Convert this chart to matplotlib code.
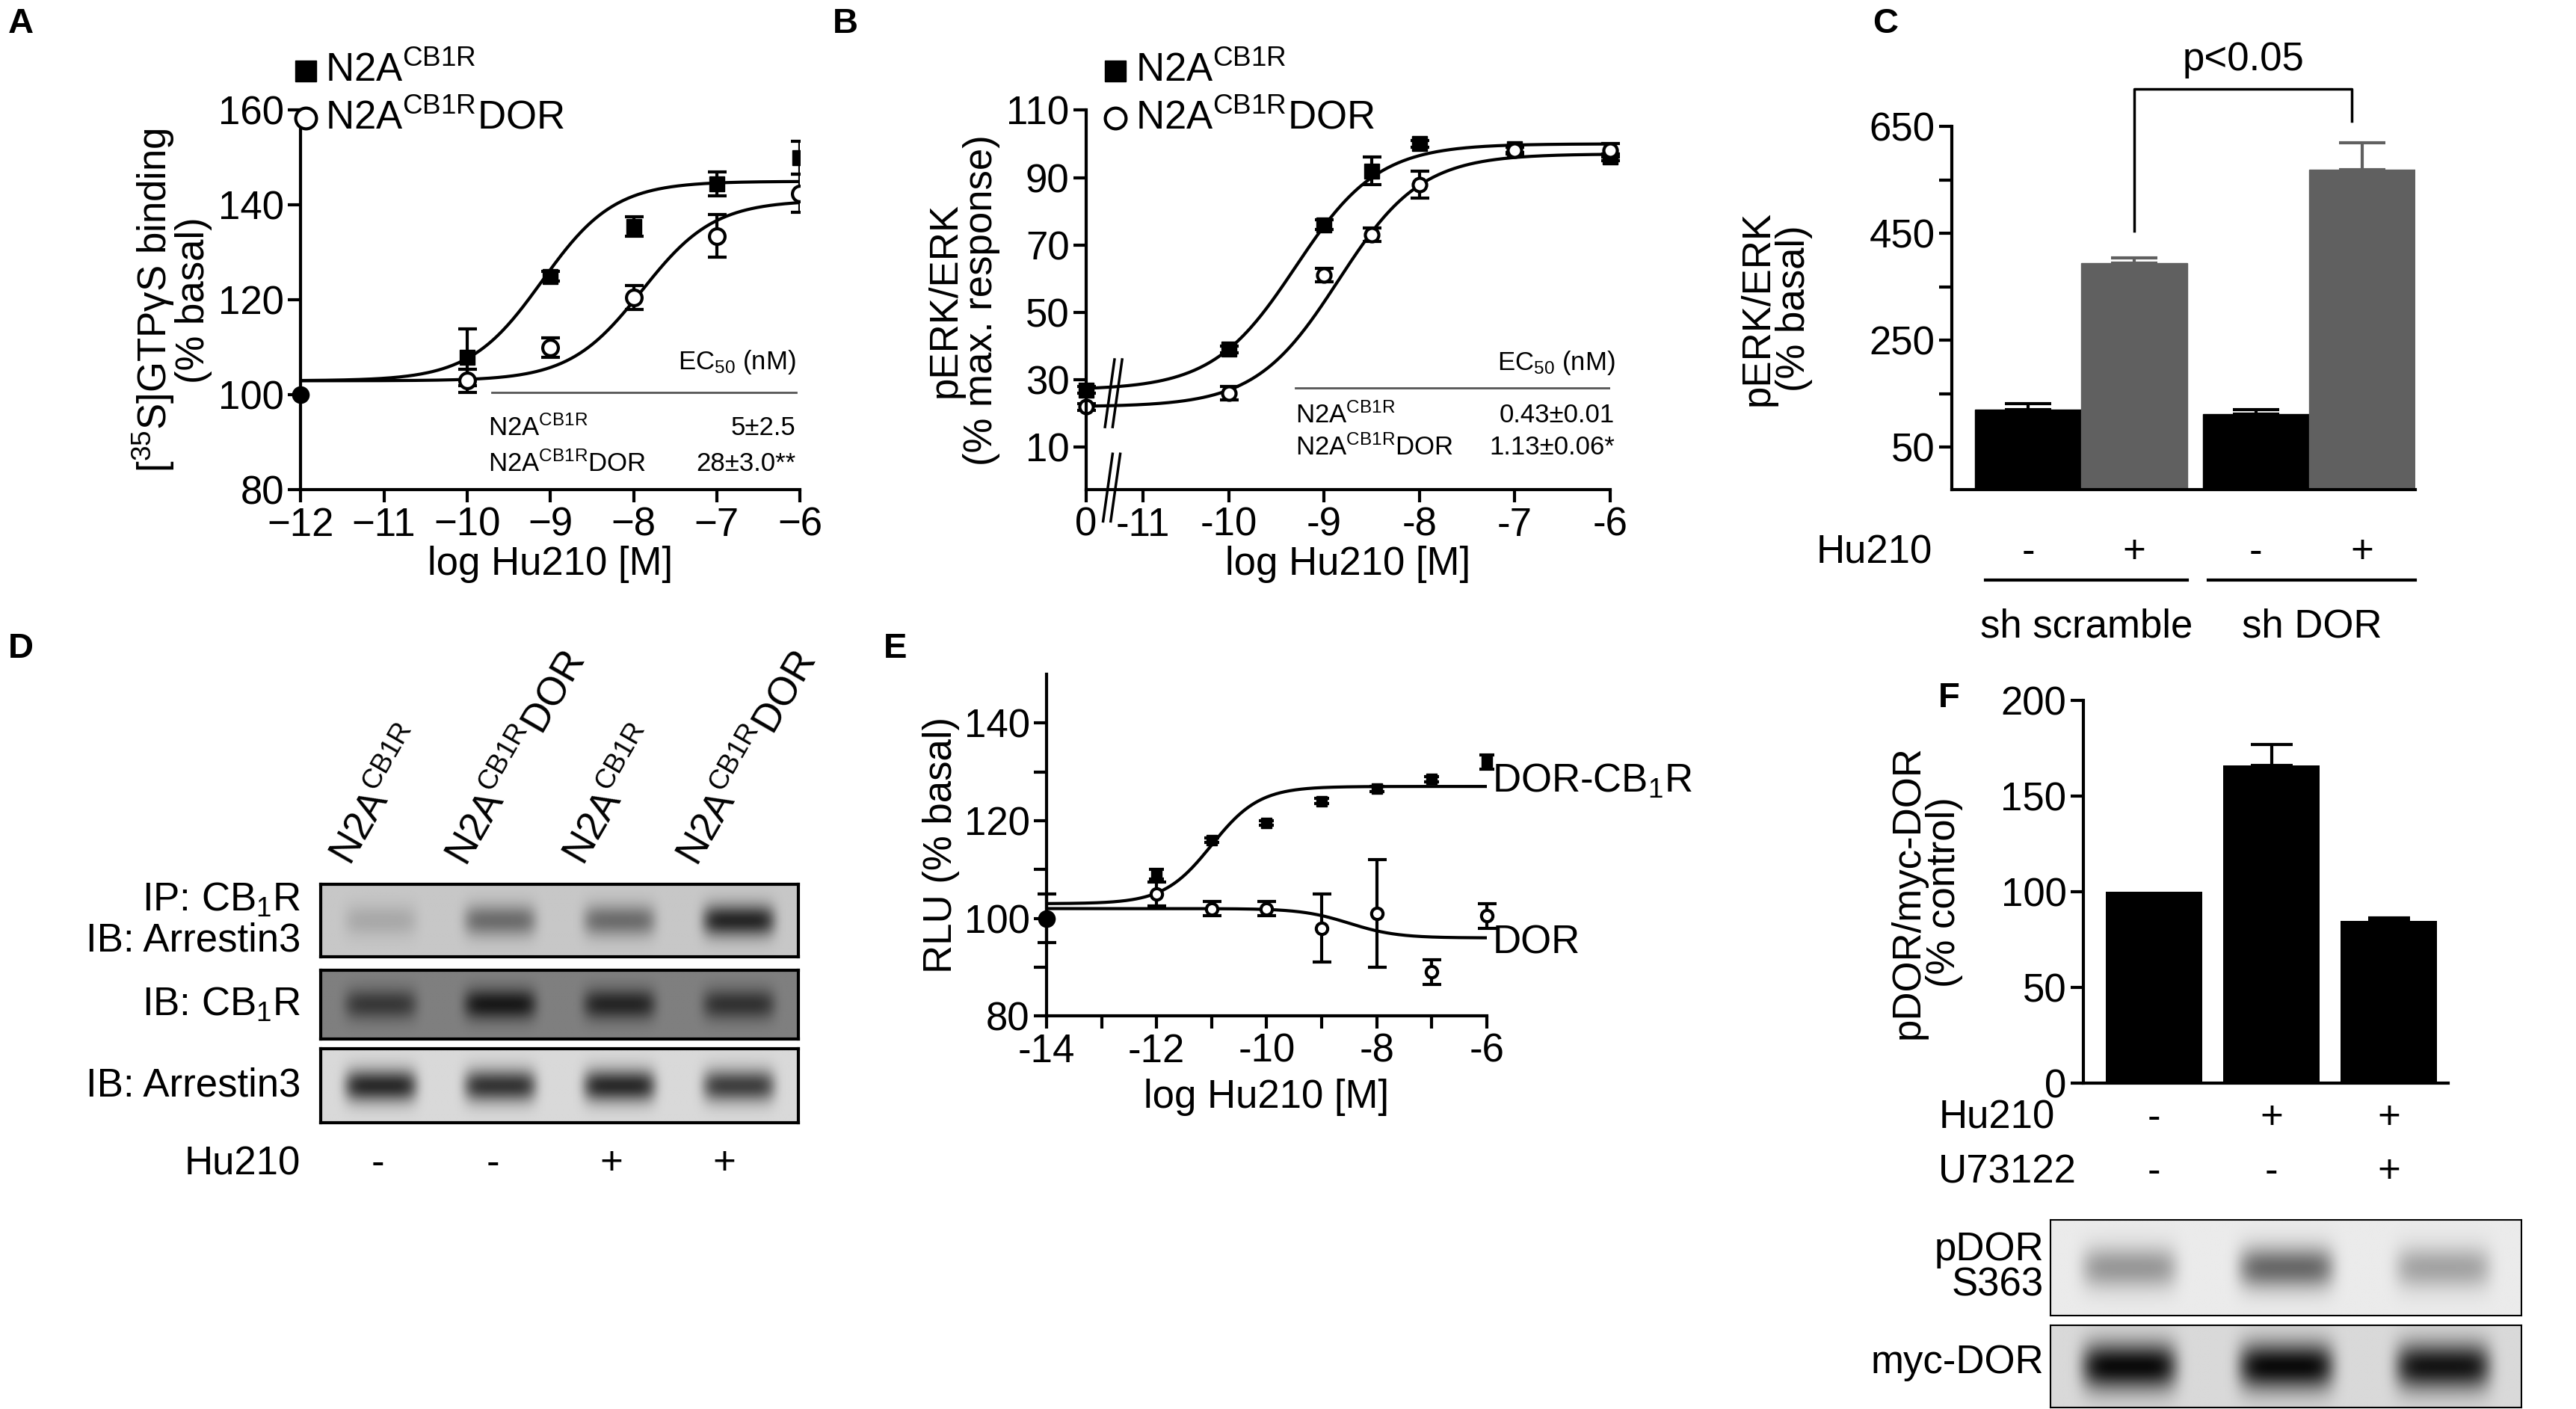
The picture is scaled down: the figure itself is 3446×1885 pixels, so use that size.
import numpy as np
import matplotlib
matplotlib.use("Agg")
import matplotlib.pyplot as plt
import matplotlib.transforms as mtransforms

plt.rcParams["font.family"] = ["Liberation Sans", "DejaVu Sans"]
plt.rcParams["mathtext.fontset"] = "custom"
plt.rcParams["mathtext.rm"] = "Liberation Sans"
plt.rcParams["mathtext.it"] = "Liberation Sans"
plt.rcParams["mathtext.sf"] = "Liberation Sans"

# ---------- data ----------
# A: [35S]GTPgS binding
a_x = [-12, -10, -9, -8, -7, -6]
a_cb1 = [100, 108, 125, 135.5, 144.5, 150]
a_cb1_err = [0, 6, 1, 2, 2.5, 3.5]
a_dor = [100, 103, 110, 120.5, 133.5, 142.5]
a_dor_err = [0, 2.5, 2, 2.5, 4.5, 4]
a_fit_cb1 = (103, 145, -9.1)   # bottom, top, logEC50
a_fit_dor = (103, 141, -7.9)

# B: pERK/ERK (0 dose drawn at -11.5 on the broken axis)
b_x = [-11.5, -10, -9, -8.5, -8, -7, -6]
b_cb1 = [27, 39, 76, 92, 100, 98.5, 96]
b_cb1_err = [1, 1, 1.5, 4, 1, 1, 1]
b_dor = [22, 26, 61, 73, 88, 98, 98]
b_dor_err = [1, 2, 2, 2, 4, 1, 2]
b_fit_cb1 = (27, 100, -9.3)
b_fit_dor = (22, 97, -8.85)

# C: pERK/ERK bars
c_vals = [120, 395, 112, 570]
c_err = [12, 10, 8, 50]
c_signs = ["-", "+", "-", "+"]
c_groups = ["sh scramble", "sh DOR"]

# D: blot lanes
d_lanes = ["N2A$^{\\mathrm{CB1R}}$", "N2A$^{\\mathrm{CB1R}}$DOR",
           "N2A$^{\\mathrm{CB1R}}$", "N2A$^{\\mathrm{CB1R}}$DOR"]
d_rows = ["IP: CB$_1$R\nIB: Arrestin3", "IB: CB$_1$R", "IB: Arrestin3"]
d_band = [[0.15, 0.45, 0.45, 0.8], [0.55, 0.8, 0.7, 0.6], [0.8, 0.75, 0.8, 0.7]]
d_bg = [0.78, 0.5, 0.85]
d_hu = ["-", "-", "+", "+"]

# E: RLU
e_x = [-14, -12, -11, -10, -9, -8, -7, -6]
e_cb1 = [100, 109, 116, 119.5, 124, 126.5, 128.5, 132]
e_cb1_err = [5, 1, 0.5, 0.5, 0.5, 0.5, 0.5, 1.5]
e_dor = [100, 105, 102, 102, 98, 101, 89, 100.5]
e_dor_err = [5, 2.5, 1.5, 1.5, 7, 11, 2.5, 2.5]
e_fit_cb1 = (103, 127, -11.0)
e_fit_dor = (102, 96, -8.5)

# F: pDOR/myc-DOR
f_vals = [100, 166, 85]
f_err = [0, 11, 1.5]
f_hu = ["-", "+", "+"]
f_u7 = ["-", "-", "+"]
f_band = [[0.35, 0.55, 0.3], [0.95, 0.95, 0.9]]
f_bg = [0.92, 0.85]

CB = "N2A$^{\\mathrm{CB1R}}$"
CBD = "N2A$^{\\mathrm{CB1R}}$DOR"

W, H = 1568.0, 857.0
fig = plt.figure(figsize=(34.46, 18.85), dpi=100)
FS = 38
TS = 25


def rect(l, r, t, b):
    return [l / W, 1 - b / H, (r - l) / W, (b - t) / H]


def fx(px):
    return px / W


def fy(py):
    return 1 - py / H


def logistic(x, p):
    bottom, top, ec = p
    return bottom + (top - bottom) / (1 + 10 ** (ec - x))


def style(ax):
    for s in ["top", "right"]:
        ax.spines[s].set_visible(False)
    for s in ["left", "bottom"]:
        ax.spines[s].set_linewidth(3)
    ax.tick_params(width=3, length=12, labelsize=FS, direction="out", pad=4)


def legend(x, y0, y1):
    fig.lines.append(plt.Line2D([fx(x)], [fy(y0)], marker="s", color="k", ms=20,
                                transform=fig.transFigure))
    fig.lines.append(plt.Line2D([fx(x)], [fy(y1)], marker="o", mfc="white", mec="k",
                                mew=3, ms=20, transform=fig.transFigure))
    fig.text(fx(x + 12), fy(y0), CB, fontsize=FS, va="center")
    fig.text(fx(x + 12), fy(y1), CBD, fontsize=FS, va="center")


# ---------- A ----------
ax = fig.add_axes(rect(183, 487, 67, 298))
style(ax)
xs = np.linspace(-12, -6, 300)
ax.plot(xs, logistic(xs, a_fit_cb1), "k-", lw=3)
ax.plot(xs, logistic(xs, a_fit_dor), "k-", lw=3)
ax.errorbar(a_x[1:], a_cb1[1:], yerr=a_cb1_err[1:], fmt="s", color="k", ms=14,
            capsize=9, elinewidth=3, capthick=3)
ax.errorbar(a_x[1:], a_dor[1:], yerr=a_dor_err[1:], fmt="o", mfc="white", mec="k",
            mew=3, color="k", ms=15, capsize=9, elinewidth=3, capthick=3)
ax.plot(a_x[0], a_cb1[0], "o", color="k", ms=16, clip_on=False, zorder=5)
ax.set_xlim(-12, -6)
ax.set_ylim(80, 160)
ax.set_yticks(range(80, 161, 20))
ax.set_xticks(range(-12, -5))
ax.set_xlabel("log Hu210 [M]", fontsize=FS, labelpad=2)
ax.set_ylabel("[$^{35}$S]GTP$\\gamma$S binding\n(% basal)", fontsize=FS, labelpad=6,
              linespacing=0.95)
ax.text(-6.05, 104, "EC$_{50}$ (nM)", fontsize=TS, ha="right", va="bottom")
ax.plot([-9.7, -6.05], [100.5, 100.5], color="#555555", lw=2)
ax.text(-9.75, 93, CB, fontsize=TS, ha="left", va="center")
ax.text(-6.05, 93, "5±2.5", fontsize=TS, ha="right", va="center")
ax.text(-9.75, 85.5, CBD, fontsize=TS, ha="left", va="center")
ax.text(-6.05, 85.5, "28±3.0**", fontsize=TS, ha="right", va="center")
fig.text(fx(5), fy(20), "A", fontsize=34, weight="bold")
legend(186, 43, 72)

# ---------- B ----------
ax = fig.add_axes(rect(661, 980, 67, 298))
style(ax)
xs = np.linspace(-11.5, -6, 300)
ax.plot(xs, logistic(xs, b_fit_cb1), "k-", lw=3)
ax.plot(xs, logistic(xs, b_fit_dor), "k-", lw=3)
ax.errorbar(b_x, b_cb1, yerr=b_cb1_err, fmt="s", color="k", ms=14, capsize=9,
            elinewidth=3, capthick=3, clip_on=False)
ax.errorbar(b_x, b_dor, yerr=b_dor_err, fmt="o", mfc="white", mec="k", mew=3,
            color="k", ms=13, capsize=9, elinewidth=3, capthick=3, clip_on=False)
ax.set_xlim(-11.5, -6)
ax.set_ylim(-2.7, 110)
ax.set_yticks(range(10, 111, 20))
ax.set_xticks([-11.5, -10.9, -10, -9, -8, -7, -6])
ax.set_xticklabels(["0", "-11", "-10", "-9", "-8", "-7", "-6"])
for dx in (0, 0.08):
    ax.plot([-11.3 + dx, -11.2 + dx], [16, 36], "k-", lw=2.5, clip_on=False)
    ax.plot([-11.32 + dx, -11.22 + dx], [-12, 8], "k-", lw=2.5, clip_on=False)
ax.set_xlabel("log Hu210 [M]", fontsize=FS, labelpad=2)
ax.set_ylabel("pERK/ERK\n(% max. response)", fontsize=FS, labelpad=6, linespacing=0.95)
ax.text(-5.95, 31, "EC$_{50}$ (nM)", fontsize=TS, ha="right", va="bottom")
ax.plot([-9.3, -5.95], [27.5, 27.5], color="#555555", lw=2)
ax.text(-9.3, 19.5, CB, fontsize=TS, ha="left", va="center")
ax.text(-5.95, 19.5, "0.43±0.01", fontsize=TS, ha="right", va="center")
ax.text(-9.3, 10, CBD, fontsize=TS, ha="left", va="center")
ax.text(-5.95, 10, "1.13±0.06*", fontsize=TS, ha="right", va="center")
fig.text(fx(507), fy(20), "B", fontsize=34, weight="bold")
legend(679, 43, 72)

# ---------- C ----------
ax = fig.add_axes(rect(1188, 1470, 77, 298))
style(ax)
y0 = -30
cx = [0, 1, 2.15, 3.15]
cols = ["black", "#606060", "black", "#606060"]
for x, v, e, c in zip(cx, c_vals, c_err, cols):
    ax.bar(x, v - y0, bottom=y0, width=1.0, color=c, edgecolor=c)
    ax.errorbar(x, v, yerr=[[0], [e]], color=c, capsize=22, elinewidth=3, capthick=3)
ax.set_xlim(-0.72, 3.65)
ax.set_ylim(y0, 650)
ax.set_yticks(range(50, 651, 100))
ax.set_yticklabels(["50", "", "250", "", "450", "", "650"])
ax.set_xticks([])
ax.set_ylabel("pERK/ERK\n(% basal)", fontsize=FS, linespacing=0.95)
ax.yaxis.set_label_coords(-0.3, 0.5)
ax.plot([1, 1, 3.05, 3.05], [455, 720, 720, 660], "k-", lw=2.5, clip_on=False)
ax.text(2.03, 740, "p<0.05", fontsize=FS, ha="center", va="bottom")
trc = ("data", "figure fraction")
blend = mtransforms.blended_transform_factory(ax.transData, fig.transFigure)
for x, s in zip(cx, c_signs):
    ax.annotate(s, (x, fy(336)), xycoords=trc, fontsize=FS, ha="center", va="center")
ax.annotate("Hu210", (-0.9, fy(336)), xycoords=trc, fontsize=FS, ha="right", va="center")
for g, (x0, x1) in enumerate([(-0.4, 1.5), (1.7, 3.65)]):
    ax.plot([x0, x1], [fy(353)] * 2, color="k", lw=3, transform=blend, clip_on=False)
    ax.annotate(c_groups[g], ((x0 + x1) / 2, fy(381)), xycoords=trc, fontsize=FS,
                ha="center", va="center")
fig.text(fx(1140), fy(20), "C", fontsize=34, weight="bold")


# ---------- blot helper ----------
def blot(box, bands, bg, n, sharp=1.0):
    bax = fig.add_axes(box)
    nx, ny = 400, 60
    xg = np.linspace(0, n, nx)
    yg = np.linspace(-1, 1, ny)[:, None]
    img = np.full((ny, nx), bg)
    for i, b in enumerate(bands):
        prof = np.exp(-((xg - (i + 0.5)) / 0.3) ** 6)
        img -= b * prof[None, :] * np.exp(-(yg / (0.45 * sharp)) ** 2) * bg
    bax.imshow(np.clip(img, 0, 1), cmap="gray", vmin=0, vmax=1, aspect="auto",
               extent=(0, n, 0, 1))
    bax.set_xticks([])
    bax.set_yticks([])
    for s in bax.spines.values():
        s.set_linewidth(3)
    return bax


# ---------- D ----------
fig.text(fx(5), fy(400), "D", fontsize=34, weight="bold")
row_tops = [538, 590, 638]
row_bots = [582, 632, 683]
for r in range(3):
    blot(rect(195, 486, row_tops[r], row_bots[r]), d_band[r], d_bg[r], 4)
    fig.text(fx(183), fy((row_tops[r] + row_bots[r]) / 2), d_rows[r], fontsize=FS,
             ha="right", va="center", linespacing=1.1)
lane_x = [230, 300, 372, 441]
for lx, lab, s in zip(lane_x, d_lanes, d_hu):
    fig.text(fx(lx - 12), fy(530), lab, fontsize=FS, rotation=60,
             rotation_mode="anchor", ha="left", va="bottom")
    fig.text(fx(lx), fy(708), s, fontsize=FS, ha="center", va="center")
fig.text(fx(183), fy(708), "Hu210", fontsize=FS, ha="right", va="center")

# ---------- E ----------
ax = fig.add_axes(rect(637, 905, 410, 618))
style(ax)
xs = np.linspace(-14, -6, 300)
ax.plot(xs, logistic(xs, e_fit_cb1), "k-", lw=3)
ax.plot(xs, logistic(xs, e_fit_dor), "k-", lw=3)
ax.errorbar(e_x[1:], e_cb1[1:], yerr=e_cb1_err[1:], fmt="s", color="k", ms=10,
            capsize=7, elinewidth=3, capthick=3, clip_on=False)
ax.errorbar(e_x, e_dor, yerr=e_dor_err, fmt="o", mfc="white", mec="k", mew=3,
            color="k", ms=11, capsize=9, elinewidth=3, capthick=3, clip_on=False)
ax.plot(e_x[0], e_cb1[0], "o", color="k", ms=16, clip_on=False, zorder=5)
ax.set_xlim(-14, -6)
ax.set_ylim(80, 150)
ax.set_yticks(range(80, 141, 10))
ax.set_yticklabels(["80", "", "100", "", "120", "", "140"])
ax.set_xticks(range(-14, -5))
ax.set_xticklabels(["-14", "", "-12", "", "-10", "", "-8", "", "-6"])
ax.set_xlabel("log Hu210 [M]", fontsize=FS, labelpad=8)
ax.set_ylabel("RLU (% basal)", fontsize=FS, labelpad=4)
ax.text(-5.9, 128, "DOR-CB$_1$R", fontsize=FS, ha="left", va="center", clip_on=False)
ax.text(-5.9, 95, "DOR", fontsize=FS, ha="left", va="center", clip_on=False)
fig.text(fx(538), fy(400), "E", fontsize=34, weight="bold")

# ---------- F ----------
ax = fig.add_axes(rect(1268, 1490, 426, 659))
style(ax)
fxs = [0, 1, 2]
for x, v, e in zip(fxs, f_vals, f_err):
    ax.bar(x, v, width=0.82, color="k")
    if e > 0:
        ax.errorbar(x, v, yerr=[[0], [e]], color="k", capsize=20, elinewidth=3,
                    capthick=3)
ax.set_xlim(-0.6, 2.5)
ax.set_ylim(0, 200)
ax.set_yticks(range(0, 201, 50))
ax.set_xticks([])
ax.set_ylabel("pDOR/myc-DOR\n(% control)", fontsize=FS, linespacing=0.95)
ax.yaxis.set_label_coords(-0.33, 0.5)
trf = ("data", "figure fraction")
for x, s1, s2 in zip(fxs, f_hu, f_u7):
    ax.annotate(s1, (x, fy(680)), xycoords=trf, fontsize=FS, ha="center", va="center")
    ax.annotate(s2, (x, fy(713)), xycoords=trf, fontsize=FS, ha="center", va="center")
fig.text(fx(1180), fy(680), "Hu210", fontsize=FS, ha="left", va="center")
fig.text(fx(1180), fy(713), "U73122", fontsize=FS, ha="left", va="center")
fig.text(fx(1180), fy(430), "F", fontsize=34, weight="bold")
fb = blot(rect(1248, 1535, 742, 800), f_band[0], f_bg[0], 3)
fb.spines[:].set_linewidth(1.5)
fb = blot(rect(1248, 1535, 806, 856), f_band[1], f_bg[1], 3, sharp=1.3)
fb.spines[:].set_linewidth(1.5)
fig.text(fx(1244), fy(771), "pDOR\nS363", fontsize=FS, ha="right", va="center",
         linespacing=0.95)
fig.text(fx(1244), fy(829), "myc-DOR", fontsize=FS, ha="right", va="center")

fig.savefig("out.png", dpi=100)
